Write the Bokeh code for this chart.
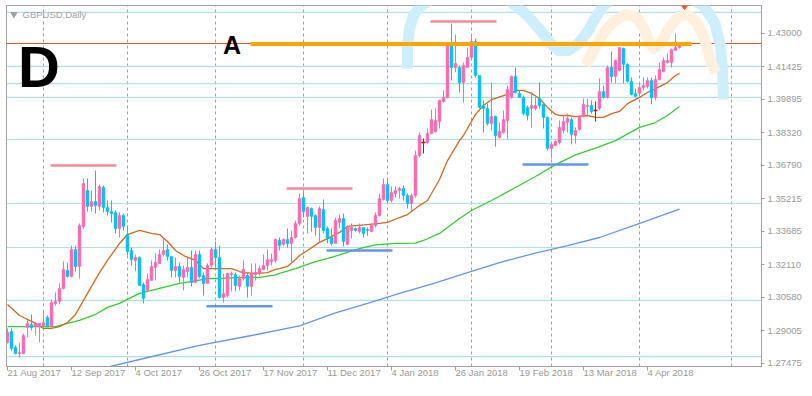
from bokeh.plotting import figure
from bokeh.models import Range1d, FixedTicker, PrintfTickFormatter, Label, Span
from bokeh.embed import file_html
from bokeh.resources import INLINE

# ---------------- data ----------------
opens = [1.2846,1.2898,1.2823,1.2794,1.2794,1.2917,1.2931,1.2921,1.2921,1.2926,
1.2964,1.2921,1.3030,1.3039,1.3100,1.3185,1.3157,1.3284,1.3204,1.3392,
1.3561,1.3486,1.3509,1.3486,1.3575,1.3481,1.3462,1.3458,1.3382,1.3444,
1.3354,1.3279,1.3232,1.3246,1.3119,1.3091,1.3138,1.3199,1.3218,1.3260,
1.3284,1.3251,1.3185,1.3204,1.3152,1.3180,1.3199,1.3128,1.3260,1.3161,
1.3124,1.3208,1.3284,1.3246,1.3058,1.3067,1.3166,1.3166,1.3110,1.3147,
1.3161,1.3110,1.3166,1.3171,1.3190,1.3208,1.3227,1.3232,1.3326,1.3307,
1.3331,1.3312,1.3340,1.3406,1.3528,1.3439,1.3476,1.3444,1.3387,1.3472,
1.3382,1.3340,1.3312,1.3411,1.3429,1.3307,1.3373,1.3382,1.3368,1.3387,
1.3378,1.3368,1.3396,1.3444,1.3519,1.3589,1.3514,1.3547,1.3561,1.3571,
1.3538,1.3500,1.3538,1.3726,1.3787,1.3787,1.3829,1.3839,1.3886,1.3980,
1.3999,1.4243,1.4140,1.4140,1.4069,1.4140,1.4187,1.4262,1.4102,1.3961,
1.3947,1.3876,1.3909,1.3810,1.3834,1.3891,1.3999,1.4098,1.4018,1.3999,
1.3952,1.3947,1.3947,1.3994,1.3966,1.3905,1.3759,1.3773,1.3787,1.3843,
1.3881,1.3895,1.3820,1.3848,1.3909,1.3956,1.3961,1.3938,1.3947,1.4027,
1.3999,1.4140,1.4098,1.4126,1.4229,1.4154,1.4074,1.4018,1.4018,1.4046,
1.4050,1.4079,1.3999,1.4083,1.4121,1.4163,1.4163,1.4220,1.4234]
highs = [1.2912,1.2912,1.2832,1.2846,1.2888,1.2950,1.2978,1.2940,1.2936,1.2997,
1.2973,1.3048,1.3081,1.3124,1.3227,1.3222,1.3302,1.3302,1.3406,1.3618,
1.3618,1.3561,1.3655,1.3589,1.3585,1.3514,1.3514,1.3467,1.3458,1.3453,
1.3396,1.3293,1.3260,1.3251,1.3128,1.3171,1.3232,1.3265,1.3284,1.3340,
1.3307,1.3251,1.3246,1.3222,1.3208,1.3246,1.3279,1.3279,1.3279,1.3175,
1.3218,1.3293,1.3321,1.3302,1.3171,1.3175,1.3180,1.3175,1.3161,1.3232,
1.3175,1.3218,1.3218,1.3208,1.3260,1.3284,1.3265,1.3335,1.3340,1.3335,
1.3382,1.3373,1.3420,1.3547,1.3552,1.3486,1.3481,1.3448,1.3486,1.3519,
1.3392,1.3382,1.3434,1.3448,1.3453,1.3396,1.3406,1.3387,1.3406,1.3387,
1.3387,1.3406,1.3458,1.3547,1.3618,1.3618,1.3580,1.3580,1.3580,1.3585,
1.3547,1.3547,1.3749,1.3834,1.3806,1.3853,1.3942,1.3947,1.3989,1.4032,
1.4257,1.4347,1.4295,1.4149,1.4163,1.4234,1.4290,1.4276,1.4102,1.3985,
1.3970,1.4069,1.3914,1.3881,1.3938,1.4055,1.4102,1.4140,1.4032,1.4008,
1.3961,1.4022,1.3999,1.4069,1.3970,1.3909,1.3787,1.3796,1.3891,1.3914,
1.3923,1.3905,1.3858,1.3914,1.3994,1.3994,1.3985,1.3980,1.4088,1.4055,
1.4149,1.4215,1.4177,1.4234,1.4234,1.4159,1.4093,1.4041,1.4065,1.4093,
1.4093,1.4093,1.4102,1.4163,1.4187,1.4206,1.4229,1.4300,1.4257]
lows = [1.2841,1.2808,1.2790,1.2775,1.2790,1.2870,1.2903,1.2879,1.2846,1.2921,
1.2917,1.2917,1.3020,1.3025,1.3096,1.3152,1.3152,1.3180,1.3147,1.3382,
1.3462,1.3462,1.3453,1.3467,1.3458,1.3444,1.3411,1.3359,1.3340,1.3373,
1.3255,1.3208,1.3180,1.3114,1.3030,1.3091,1.3138,1.3138,1.3218,1.3251,
1.3232,1.3152,1.3152,1.3128,1.3091,1.3152,1.3110,1.3124,1.3147,1.3067,
1.3124,1.3199,1.3199,1.3053,1.3034,1.3058,1.3086,1.3086,1.3091,1.3138,
1.3058,1.3067,1.3138,1.3161,1.3185,1.3185,1.3208,1.3222,1.3279,1.3302,
1.3293,1.3222,1.3335,1.3396,1.3434,1.3359,1.3368,1.3349,1.3317,1.3359,
1.3312,1.3302,1.3312,1.3382,1.3298,1.3307,1.3335,1.3368,1.3359,1.3340,
1.3349,1.3364,1.3387,1.3439,1.3514,1.3500,1.3505,1.3528,1.3523,1.3514,
1.3476,1.3467,1.3528,1.3716,1.3735,1.3782,1.3825,1.3834,1.3853,1.3975,
1.3994,1.4079,1.4117,1.4022,1.3975,1.4140,1.4182,1.4093,1.3947,1.3834,
1.3867,1.3843,1.3768,1.3806,1.3829,1.3806,1.3994,1.4018,1.3999,1.3914,
1.3891,1.3857,1.3938,1.3947,1.3853,1.3749,1.3712,1.3768,1.3778,1.3829,
1.3834,1.3778,1.3782,1.3843,1.3905,1.3914,1.3923,1.3886,1.3938,1.3994,
1.3994,1.4069,1.4065,1.4121,1.4065,1.4069,1.4008,1.3999,1.4008,1.4032,
1.4041,1.3966,1.3985,1.4079,1.4117,1.4159,1.4140,1.4220,1.4229]
closes = [1.2893,1.2818,1.2794,1.2799,1.2879,1.2936,1.2917,1.2936,1.2936,1.2940,
1.2921,1.3034,1.3039,1.3100,1.3190,1.3157,1.3284,1.3204,1.3396,1.3594,
1.3486,1.3509,1.3491,1.3580,1.3481,1.3462,1.3453,1.3382,1.3444,1.3392,
1.3274,1.3236,1.3246,1.3114,1.3053,1.3142,1.3204,1.3222,1.3260,1.3279,
1.3251,1.3185,1.3204,1.3157,1.3190,1.3199,1.3128,1.3260,1.3157,1.3124,
1.3208,1.3284,1.3246,1.3058,1.3077,1.3171,1.3171,1.3114,1.3147,1.3190,
1.3110,1.3171,1.3175,1.3194,1.3208,1.3236,1.3236,1.3331,1.3302,1.3331,
1.3312,1.3340,1.3406,1.3523,1.3462,1.3481,1.3439,1.3387,1.3476,1.3373,
1.3335,1.3312,1.3420,1.3429,1.3321,1.3387,1.3387,1.3373,1.3387,1.3359,
1.3373,1.3396,1.3444,1.3523,1.3589,1.3514,1.3552,1.3561,1.3571,1.3538,
1.3500,1.3538,1.3726,1.3820,1.3787,1.3829,1.3895,1.3891,1.3985,1.3999,
1.4243,1.4140,1.4159,1.4069,1.4149,1.4187,1.4262,1.4102,1.3952,1.3947,
1.3876,1.3909,1.3820,1.3839,1.3895,1.4036,1.4098,1.4022,1.3999,1.3923,
1.3914,1.3961,1.3961,1.3961,1.3905,1.3759,1.3778,1.3792,1.3858,1.3886,
1.3900,1.3825,1.3843,1.3909,1.3966,1.3961,1.3933,1.3938,1.4027,1.3999,
1.4140,1.4098,1.4173,1.4234,1.4154,1.4074,1.4013,1.4004,1.4046,1.4055,
1.4079,1.3999,1.4083,1.4130,1.4173,1.4173,1.4225,1.4234,1.42527]

# moving averages (bar index, value)
ma_fast_idx = [0,3,7,9,11,13,15,17,20,22,23,25,28,30,33,36,38,40,42,44,47,49,56,58,59,62,65,67,68,70,
               72,73,75,78,80,83,85,87,90,93,95,98,100,102,103,105,108,110,113,114,117,119,121,124,126,127,
               129,131,133,135,137,138,140,142,145,147,149,151,153,155,158,160,163,165,167,168]
ma_fast = [1.3025,1.2973,1.2936,1.2912,1.2912,1.2921,1.2940,1.2978,1.3077,1.3142,1.3175,1.3232,1.3312,
           1.3354,1.3373,1.3359,1.3354,1.3321,1.3279,1.3255,1.3232,1.3194,1.3194,1.3180,1.3175,1.3171,
           1.3175,1.3190,1.3194,1.3204,1.3236,1.3255,1.3279,1.3317,1.3335,1.3364,1.3392,1.3396,1.3401,
           1.3406,1.3411,1.3434,1.3448,1.3476,1.3491,1.3514,1.3613,1.3702,1.3796,1.3820,1.3919,1.3961,
           1.3989,1.4008,1.4018,1.4032,1.4032,1.4018,1.3994,1.3952,1.3919,1.3914,1.3914,1.3909,1.3914,
           1.3905,1.3905,1.3923,1.3933,1.3970,1.3999,1.4022,1.4050,1.4069,1.4102,1.4112]
ma_mid_idx = [0,6,12,15,18,22,25,28,33,37,40,43,47,50,53,58,63,67,68,72,77,81,85,88,92,97,102,104,
              108,113,116,121,127,132,137,142,147,152,158,162,165,168]
ma_mid = [1.2921,1.2921,1.2921,1.2936,1.2950,1.2978,1.3011,1.3030,1.3077,1.3096,1.3110,1.3124,1.3136,
          1.3147,1.3147,1.3152,1.3152,1.3164,1.3171,1.3194,1.3227,1.3246,1.3270,1.3288,1.3305,1.3312,
          1.3314,1.3326,1.3359,1.3429,1.3467,1.3514,1.3575,1.3627,1.3683,1.3729,1.3761,1.3796,1.3858,
          1.3881,1.3914,1.3956]
ma_slow_idx = [24,33,48,61,73,82,90,98,107,115,123,132,140,148,157,165,168]
ma_slow = [1.2726,1.2766,1.2832,1.2879,1.2924,1.2985,1.3030,1.3077,1.3126,1.3175,1.3222,1.3267,1.3302,
           1.3340,1.3399,1.3453,1.3474]

# horizontal level lines
level_prices = [1.4399,1.4145,1.4064,1.3999,1.3801,1.3500,1.3293,1.3044,1.2780]
bid_price = 1.42527
a_line_start, a_line_end, a_line_price = 60.75, 171.0, 1.4250
res_start = [10.75, 69.75, 105.75]
res_end = [27.25, 86.25, 122.25]
res_price = [1.3679, 1.3571, 1.4356]
sup_start = [49.75, 79.75, 128.75]
sup_end = [66.25, 96.25, 145.25]
sup_price = [1.3016, 1.3279, 1.3684]

# hand-drawn brush strokes
cyan_x = [100,100,100.5,101.5,103.25,106.25,110.75,118.25,124,127,130,133.25,135.75,137.75,140.25,
          142.75,145.25,147.25,149.5,153.25,160.75,169.5,174,176.75,178.25,178.75,179]
cyan_y = [1.4135,1.4243,1.4323,1.4385,1.4427,1.4464,1.4493,1.4497,1.4474,1.4431,1.4384,1.4314,1.4253,
          1.4220,1.4220,1.4253,1.4314,1.4384,1.4441,1.4483,1.4502,1.4479,1.4431,1.4352,1.4243,1.4126,1.3990]
peach_x = [144.5,146.5,149,151.5,154.5,157.25,159,160.25,161.5,163.25,165,167.5,170,172.25,174.25,175.75,177]
peach_y = [1.4149,1.4220,1.4300,1.4356,1.4389,1.4375,1.4328,1.4267,1.4229,1.4253,1.4314,1.4375,1.4389,
           1.4352,1.4276,1.4173,1.4116]

tick_idx = [0,16,32,48,64,80,96,112,128,144,160]
tick_labels = ["21 Aug 2017","12 Sep 2017","4 Oct 2017","26 Oct 2017","17 Nov 2017","11 Dec 2017",
               "4 Jan 2018","26 Jan 2018","19 Feb 2018","13 Mar 2018","4 Apr 2018"]
month_idx = [9,30,52,74,95,116,136,158,181]
price_ticks = [1.27475,1.29005,1.30580,1.32110,1.33685,1.35215,1.36790,1.38320,1.39895,1.41425,1.43000]

# ---------------- figure ----------------
GRAY = "#a0a0a0"
TXT = "#999999"
FONT = "Liberation Sans"
p = figure(width=806, height=388, x_range=Range1d(-0.25, 188.5), y_range=Range1d(1.27331, 1.44315),
           output_backend="svg", toolbar_location=None, tools="", y_axis_location="right",
           min_border_left=6, min_border_top=5, min_border_right=45, min_border_bottom=22)
p.outline_line_color = GRAY
p.background_fill_color = "white"
p.border_fill_color = "white"

xa = p.xaxis[0]
xa.ticker = FixedTicker(ticks=tick_idx)
xa.major_label_overrides = {t: l for t, l in zip(tick_idx, tick_labels)}
# a tiny negative orientation makes Bokeh left-align the labels at their ticks (MT4 style)
xa.major_label_orientation = -0.0001
xa.major_label_text_font = FONT
xa.major_label_text_font_size = "9.5px"
xa.major_label_text_color = TXT
xa.major_label_standoff = 2
xa.major_tick_in = 0
xa.major_tick_out = 4
xa.minor_tick_line_color = None
xa.axis_line_color = GRAY
xa.major_tick_line_color = GRAY

ya = p.yaxis[0]
ya.ticker = FixedTicker(ticks=price_ticks)
ya.formatter = PrintfTickFormatter(format="%.5f")
ya.major_label_text_font = FONT
ya.major_label_text_font_size = "9.5px"
ya.major_label_text_color = TXT
ya.major_label_standoff = 3
ya.major_tick_in = 0
ya.major_tick_out = 3
ya.minor_tick_line_color = None
ya.axis_line_color = GRAY
ya.major_tick_line_color = GRAY

p.xgrid.ticker = FixedTicker(ticks=month_idx)
p.xgrid.grid_line_color = GRAY
p.xgrid.grid_line_dash = "3 3"
p.ygrid.grid_line_color = None

for lv in level_prices:
    p.add_layout(Span(location=lv, dimension="width", line_color="#b0e0e6", line_width=1.2, level="underlay"))
p.add_layout(Span(location=bid_price, dimension="width", line_color="#e0582a", line_width=1, level="underlay"))

# brush strokes
p.line(cyan_x, cyan_y, line_color="#cdeefb", line_width=11, line_join="round")
p.line(peach_x, peach_y, line_color="#fff0dd", line_width=11, line_join="round")

# moving averages
p.line(ma_slow_idx, ma_slow, line_color="#6495ed", line_width=1.3)
p.line(ma_mid_idx, ma_mid, line_color="#32cd32", line_width=1.3)
p.line(ma_fast_idx, ma_fast, line_color="#d2691e", line_width=1.3)

# candles
idx = list(range(len(opens)))
cols = []
for o, c in zip(opens, closes):
    cols.append("#ff69b4" if c > o else ("#00bfff" if c < o else "#e00000"))
p.segment(x0=idx, y0=highs, x1=idx, y1=lows, line_color=cols, line_width=1)
tops = [max(o, c) for o, c in zip(opens, closes)]
bots = [min(o, c) for o, c in zip(opens, closes)]
p.vbar(x=idx, width=0.72, top=tops, bottom=bots, fill_color=cols, line_color=cols, line_width=0.5)
dj = [i for i in idx if opens[i] == closes[i]]
p.segment(x0=[i - 0.5 for i in dj], x1=[i + 0.5 for i in dj], y0=[opens[i] for i in dj],
          y1=[opens[i] for i in dj], line_color="#e00000", line_width=1.5)

# drawn objects
p.segment(x0=res_start, x1=res_end, y0=res_price, y1=res_price, line_color="#f48a98", line_width=2.5)
p.segment(x0=sup_start, x1=sup_end, y0=sup_price, y1=sup_price, line_color="#6495ed", line_width=2.5)
p.segment(x0=[a_line_start], x1=[a_line_end], y0=[a_line_price], y1=[a_line_price],
          line_color="#ffa500", line_width=4)
p.patch([168.25, 170.25, 169.25], [1.4437, 1.4437, 1.4413], fill_color="#f05020", line_color="#f05020")

# title and marker
p.scatter([1.6], [1.4390], marker="inverted_triangle", size=6, color=GRAY)
p.add_layout(Label(x=3.75, y=1.4391, text="GBPUSD,Daily", text_font=FONT, text_font_size="9.5px",
                   text_color=GRAY, text_baseline="middle"))
p.add_layout(Label(x=2.65, y=1.4145, text="D", text_font=FONT, text_font_size="58px",
                   text_font_style="bold", text_color="black", text_baseline="middle"))
p.add_layout(Label(x=53.9, y=1.4248, text="A", text_font=FONT, text_font_size="25px",
                   text_font_style="bold", text_color="black", text_baseline="middle"))
p.add_layout(Label(x=758, x_units="screen", y=bid_price, y_units="data", text="1.42527", text_font=FONT,
                   text_font_size="9.5px", text_color="white", text_baseline="middle",
                   background_fill_color="#a8a8a8", padding=1))

open("out.html", "w").write(file_html(p, INLINE))
